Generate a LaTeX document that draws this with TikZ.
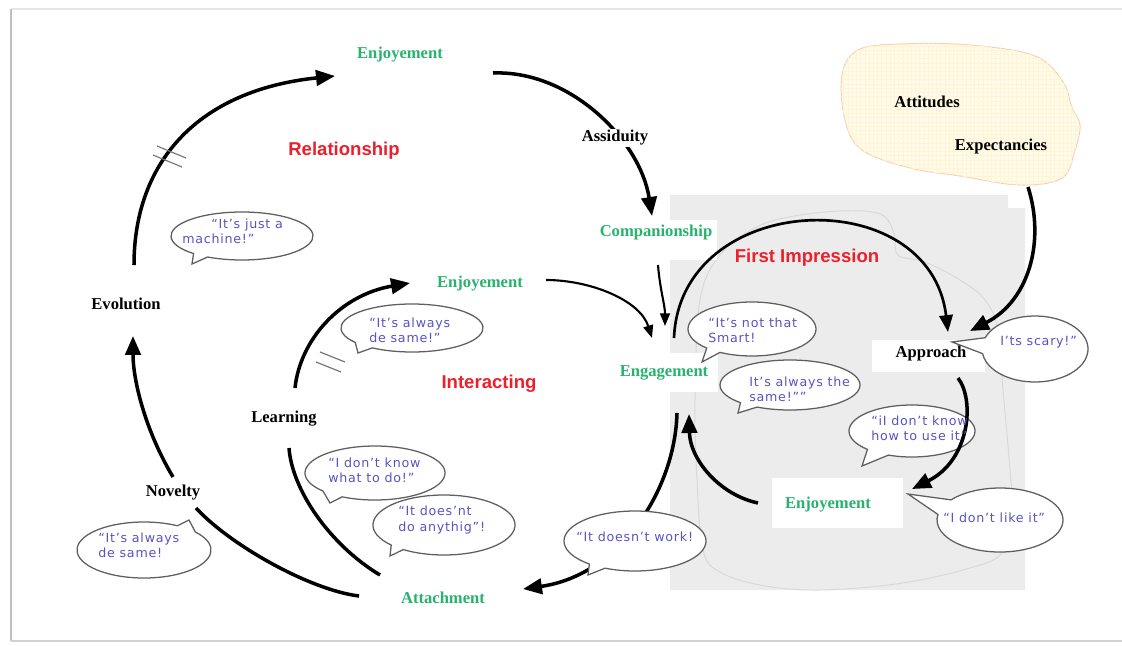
\documentclass[tikz,border=0pt]{standalone}
\usepackage{fontspec}
\setmainfont{Liberation Serif}
\newfontfamily\titlefont{Liberation Sans}
\newfontfamily\speechfont[LetterSpace=6]{DejaVu Sans}
\usetikzlibrary{arrows.meta,patterns,calc}
\definecolor{lblgreen}{RGB}{40,178,110}
\definecolor{ttlred}{RGB}{236,32,44}
\definecolor{spblue}{RGB}{88,84,196}
\definecolor{bgray}{RGB}{236,236,236}
\definecolor{cloudfill}{RGB}{255,251,234}
\definecolor{cloudgrid}{RGB}{254,244,214}
\definecolor{cloudline}{RGB}{246,208,175}
\definecolor{bubline}{RGB}{95,95,95}
\tikzset{
  lbl/.style={font=\bfseries\fontsize{11.8}{13}\selectfont, inner sep=1pt},
  glbl/.style={lbl, text=lblgreen},
  ttl/.style={font=\titlefont\bfseries\fontsize{13.2}{15}\selectfont, text=ttlred},
  say/.style={font=\speechfont\fontsize{9}{10.8}\selectfont, text=spblue, align=left, inner sep=0pt, anchor=west},
  bub/.style={draw=bubline, fill=white, line width=0.9pt},
  flow/.style={line width=2.5pt, -{Triangle[length=13.5pt,width=11pt]}},
  thinflow/.style={line width=1.5pt, -{Triangle[length=9pt,width=7pt]}},
  plainflow/.style={line width=2.5pt},
  tickmark/.style={draw=black!55, line width=0.8pt},
  whitebox/.style={fill=white, draw=none}
}
% cx cy rx ry a1 a2 tipx tipy
\newcommand\speechbub[8]{%
  \draw[bub] ($(#1,#2)+(#6:#3 and #4)$) arc[start angle=#6, end angle={#5+360}, x radius=#3, y radius=#4] -- (#7,#8) -- cycle;}
\begin{document}
\begin{tikzpicture}[x=0.025cm,y=-0.025cm]
\useasboundingbox (0,0) rectangle (1122,645);
\fill[white] (0,0) rectangle (1122,645);
% frame
\draw[black!10, line width=0.8pt] (11,9) -- (1122,9);
\draw[black!25, line width=1.6pt] (11,9) -- (11,641);
\draw[black!18, line width=1.6pt] (11,641) -- (1122,641);
% grey first-impression area
\fill[bgray] (670,195) -- (1008,195) -- (1008,208) -- (1025,208) -- (1025,590) -- (670,590) -- cycle;
\draw[black!15, line width=0.7pt] plot[smooth cycle, tension=0.6] coordinates {(789,217) (840,211) (880,214) (894,233) (898,255) (925,262) (960,280) (985,300) (998,330) (1003,390) (1010,470) (1013,525) (1000,555) (970,568) (920,580) (870,587) (810,590) (760,585) (720,572) (703,550) (697,480) (695,400) (700,300) (720,255) (755,228)};
% cloud
\path[draw=cloudline, line width=0.7pt, fill=cloudfill, postaction={pattern=grid, pattern color=cloudgrid}] plot[smooth cycle, tension=0.6] coordinates {(842,75) (858,50) (900,44) (970,45) (1035,56) (1063,82) (1072,108) (1080,125) (1075,150) (1062,178) (1020,185) (960,176) (910,168) (862,150) (845,120)};
% white label boxes
\fill[whitebox] (592,220) rectangle (717,260);
\fill[whitebox] (612,353) rectangle (718,392);
\fill[whitebox] (872,340) rectangle (985,372);
\fill[whitebox] (772,478) rectangle (903,528);
% coordinates
\coordinate (a0) at (134,265); \coordinate (a1) at (335,76);
\coordinate (b0) at (493,73); \coordinate (b1) at (652,216);
\coordinate (c0) at (658,265); \coordinate (c1) at (665,326);
\coordinate (d0) at (546,280); \coordinate (d1) at (652,338);
\coordinate (e0) at (674,338); \coordinate (e1) at (948,332);
\coordinate (f0) at (1028,187); \coordinate (f1) at (970,331);
\coordinate (g0) at (958,378); \coordinate (g1) at (912,489);
\coordinate (h0) at (758,503); \coordinate (h1) at (689,414);
\coordinate (i0) at (677,413); \coordinate (i1) at (523,589);
\coordinate (j0) at (359,596); \coordinate (j1) at (196,508);
\coordinate (k0) at (173,477); \coordinate (k1) at (133,336);
\coordinate (l0) at (380,575); \coordinate (l1) at (289,448);
\coordinate (m0) at (295,388); \coordinate (m1) at (410,283);
% arrow under bubble
\draw[flow] (i0) .. controls (675,490) and (620,575) .. (i1);
% bubbles
\speechbub{242}{236}{71}{24}{119}{133}{192}{264}
\speechbub{412}{328}{71}{24}{124}{143}{358}{353}
\speechbub{752}{329}{64}{27}{120}{135}{702}{362}
\speechbub{790}{385}{70}{25}{118}{135}{738}{413}
\speechbub{1035}{349}{53}{33}{172}{200}{952}{342}
\speechbub{912}{431}{63}{26}{112}{135}{862}{466}
\speechbub{1000}{520}{63}{32}{190}{219}{908}{494}
\speechbub{635}{541}{71}{30}{115}{130}{588}{575}
\speechbub{375}{473}{70}{27}{118}{138}{330}{503}
\speechbub{444}{525}{71}{30}{125}{138}{390}{556}
\speechbub{144}{550}{67}{28}{300}{320}{189}{520}
% arrows
\draw[flow] (a0) .. controls (134,160) and (200,90) .. (a1);
\draw[flow] (b0) .. controls (570,70) and (640,140) .. (b1);
\draw[thinflow] (c0) .. controls (660,290) and (665,305) .. (c1);
\draw[thinflow] (d0) .. controls (590,280) and (640,300) .. (d1);
\draw[line width=1.9pt, -{Triangle[length=12pt,width=9.5pt]}] (e0) .. controls (680,190) and (930,180) .. (e1);
\draw[flow] (f0) .. controls (1045,240) and (1030,300) .. (f1);
\draw[flow] (g0) .. controls (975,400) and (970,460) .. (g1);
\draw[flow] (h0) .. controls (720,495) and (690,460) .. (h1);
\draw[plainflow] (j0) .. controls (310,590) and (230,545) .. (j1);
\draw[flow] (k0) .. controls (145,430) and (133,380) .. (k1);
\draw[plainflow] (l0) .. controls (330,545) and (292,490) .. (l1);
\draw[flow] (m0) .. controls (300,340) and (340,295) .. (m1);
% tick marks
\draw[tickmark] (157,146) -- (186,158);
\draw[tickmark] (153,155) -- (182,167);
\draw[tickmark] (320,352) -- (345,362);
\draw[tickmark] (316,362) -- (341,372);
% labels
\node[glbl] (enjTop) at (400,55) {Enjoyement};
\node[ttl] (relTitle) at (344,151) {Relationship};
\node[lbl, fill=white] (assid) at (615,138) {Assiduity};
\node[glbl] (comp) at (656,233) {Companionship};
\node[ttl] (firstImp) at (807,258) {First Impression};
\node[lbl] (attit) at (927,102) {Attitudes};
\node[lbl] (expect) at (1001,147) {Expectancies};
\node[lbl] (evol) at (126,304) {Evolution};
\node[glbl] (enjMid) at (480,284) {Enjoyement};
\node[ttl] (interTitle) at (489,384) {Interacting};
\node[glbl] (engag) at (664,373) {Engagement};
\node[lbl] (appr) at (931,354) {Approach};
\node[lbl] (learn) at (284,419) {Learning};
\node[lbl] (novel) at (173,493) {Novelty};
\node[glbl] (enjBot) at (828,505) {Enjoyement};
\node[glbl] (attach) at (443,598) {Attachment};
% speech texts
\node[say] (s1) at (182,231) {\hspace{2.3em}“It’s just a\\machine!”};
\node[say] (s2) at (369,330) {“It’s always\\de same!”};
\node[say] (s3) at (708,330) {“It’s not that\\Smart!};
\node[say] (s4) at (749,389) {It’s always the\\same!””};
\node[say] (s5) at (1000,342) {I’ts scary!”};
\node[say] (s6) at (871,428) {“iI don’t know\\how to use it”};
\node[say] (s7) at (943,518) {“I don’t like it”};
\node[say] (s8) at (576,537) {“It doesn’t work!};
\node[say] (s9) at (328,470) {“I don’t know\\what to do!”};
\node[say] (s10) at (398,520) {“It does’nt\\do anythig”!};
\node[say] (s11) at (98,545) {“It’s always\\de same!};
\end{tikzpicture}
\end{document}
